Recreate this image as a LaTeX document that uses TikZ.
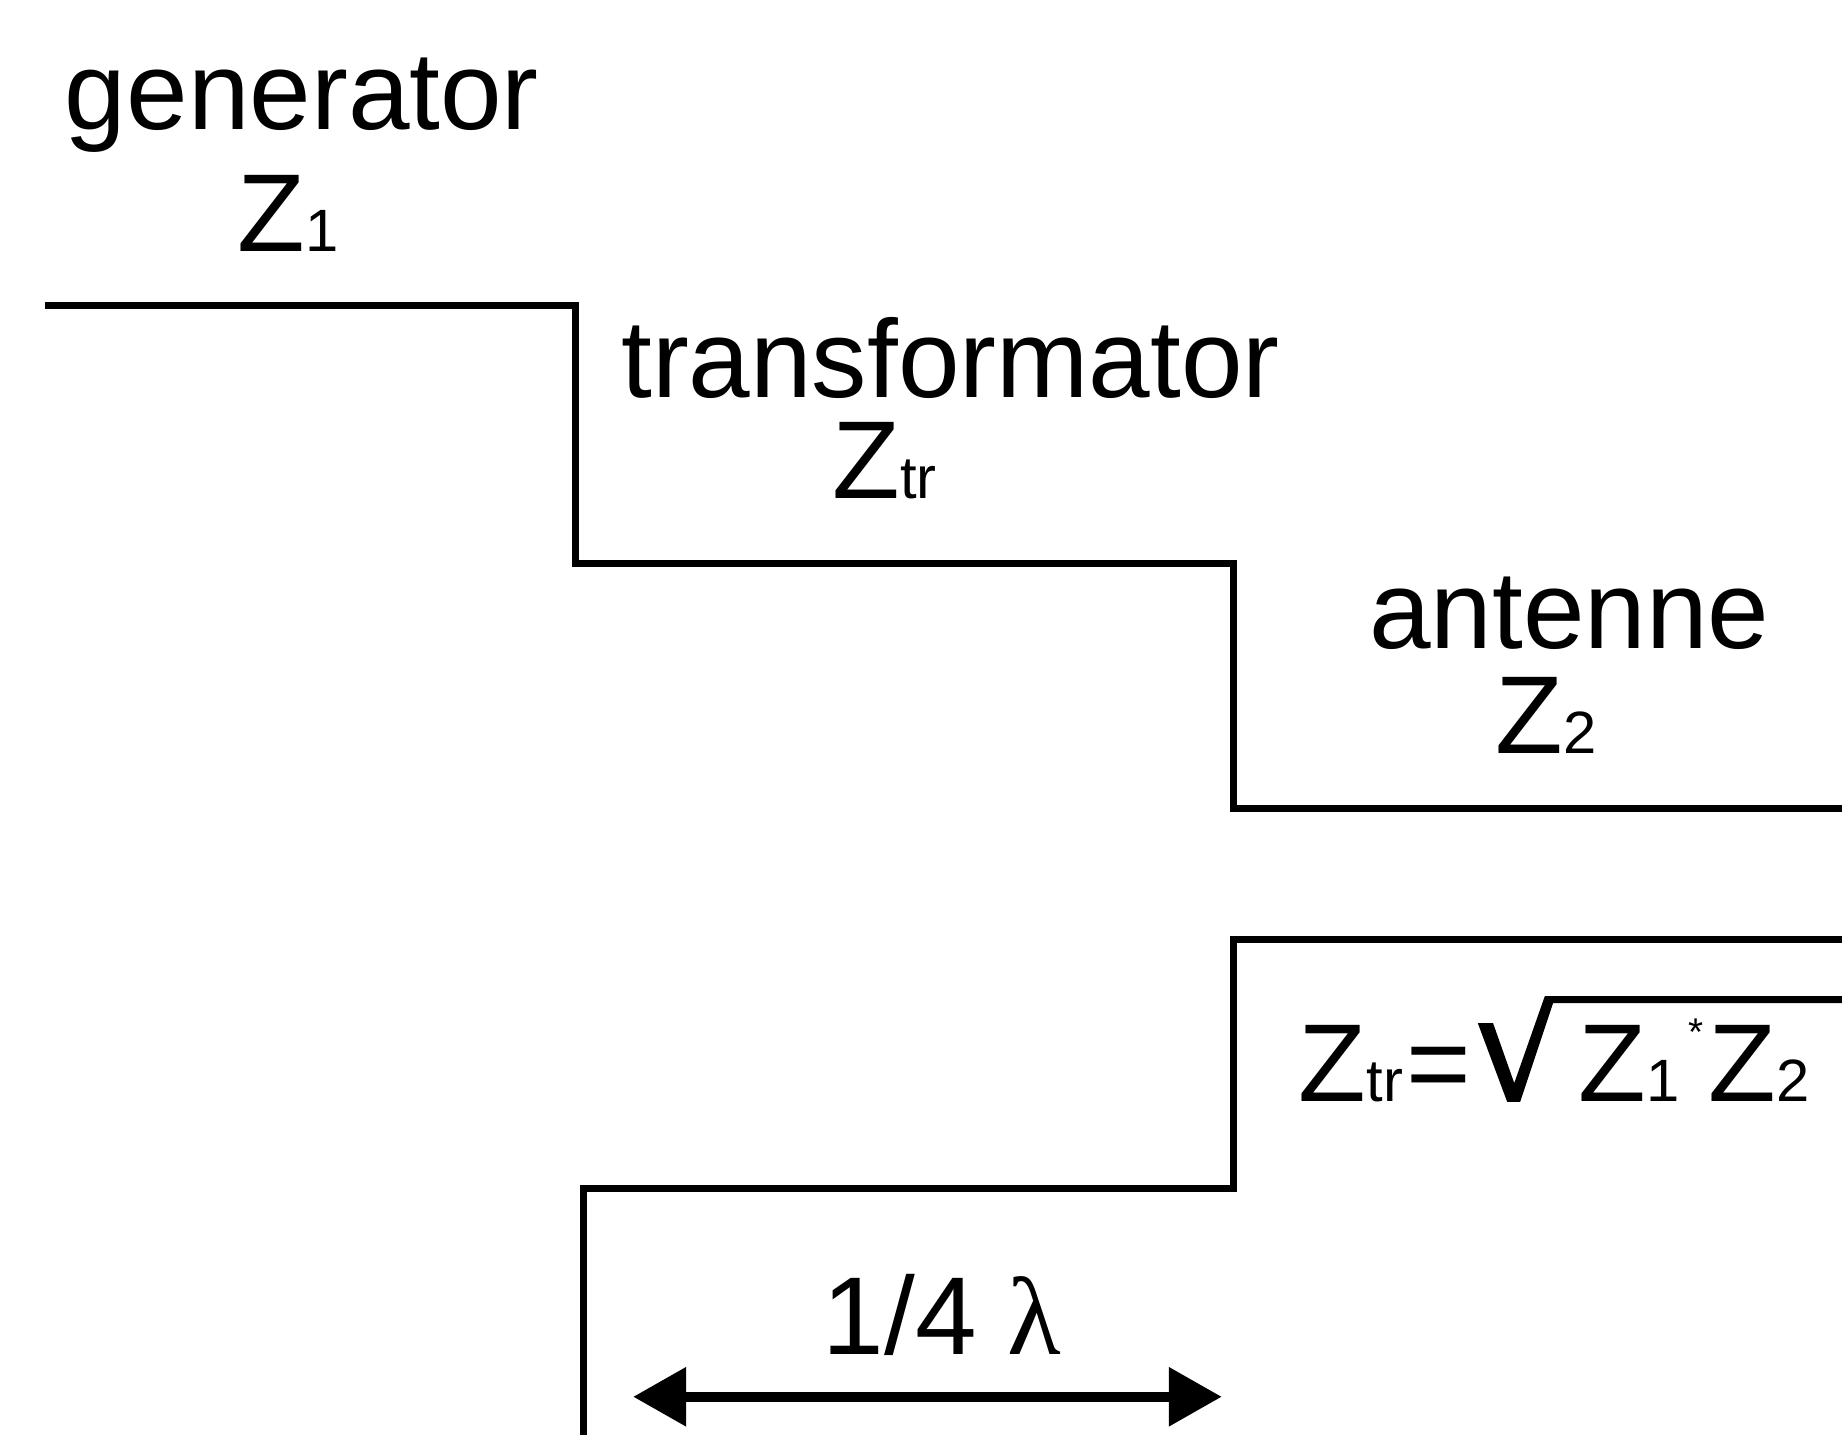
\documentclass[tikz,border=0pt]{standalone}
\usepackage{fontspec}
\setmainfont{Liberation Sans}
\newfontfamily\lamfont{Liberation Serif}
\usetikzlibrary{arrows.meta}
\newcommand{\sbs}[1]{{\fontsize{17}{17}\selectfont #1}}
\begin{document}
\begin{tikzpicture}[x=0.011747cm,y=-0.011747cm,
  lbl/.style={inner sep=0pt, anchor=base, font=\fontsize{31.5}{36}\selectfont},
  wire/.style={line width=2pt, line join=miter},
  dim/.style={line width=2.8pt, {Triangle[length=5.3mm,width=5.7mm]}-{Triangle[length=5.3mm,width=5.7mm]}}]
\useasboundingbox (0,0) rectangle (1568,1221);
% upper conductor
\coordinate (u0) at (38,260);
\coordinate (u1) at (490,260);
\coordinate (u2) at (490,480);
\coordinate (u3) at (1050,480);
\coordinate (u4) at (1050,688);
\coordinate (u5) at (1580,688);
\draw[wire] (u0) -- (u1) -- (u2) -- (u3) -- (u4) -- (u5);
% lower conductor
\coordinate (l0) at (1580,800);
\coordinate (l1) at (1050,800);
\coordinate (l2) at (1050,1012);
\coordinate (l3) at (497,1012);
\coordinate (l4) at (497,1235);
\draw[wire] (l0) -- (l1) -- (l2) -- (l3) -- (l4);
% labels
\node[lbl] (gen) at (257,110) {generator};
\node[lbl] (z1) at (245,214) {Z\sbs{1}};
\node[lbl] (tra) at (809,338) {transformator};
\node[lbl] (ztr) at (753,424) {Z\sbs{tr}};
\node[lbl] (ant) at (1336,552) {antenne};
\node[lbl] (z2) at (1316,641) {Z\sbs{2}};
% formula
\node[lbl, anchor=base west] (fa) at (1105,938) {Z\sbs{tr}};
\node[lbl, anchor=base west] (fb) at (1197,938) {=};
\node[lbl, anchor=base west] (fc) at (1343,938) {Z\sbs{1}};
\node[inner sep=0pt, font=\fontsize{11}{11}\selectfont] (fd) at (1444,879) {*};
\node[lbl, anchor=base west] (fe) at (1454,938) {Z\sbs{2}};
\fill (1258,871) -- (1271,871) -- (1289,922) -- (1315,848) -- (1580,848)
  -- (1580,854) -- (1322,854) -- (1294,938) -- (1283,938) -- cycle;
% quarter wave
\node[lbl] (q) at (802,1153) {1/4 {\lamfont λ}};
\coordinate (a0) at (539,1189);
\coordinate (a1) at (1040,1189);
\draw[dim] (a0) -- (a1);
\end{tikzpicture}
\end{document}
